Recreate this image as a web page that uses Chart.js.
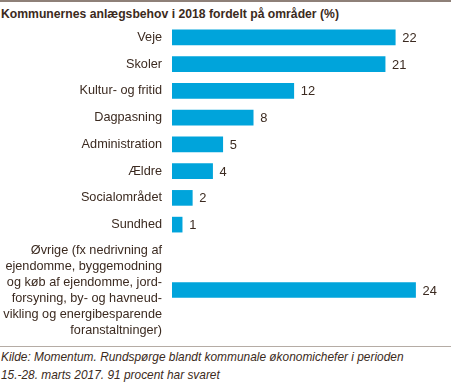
<!DOCTYPE html>
<html>
<head>
<meta charset="utf-8">
<script src="https://cdn.jsdelivr.net/npm/chart.js@4"></script>
<style>
  html, body { margin: 0; padding: 0; background: #fff; }
  #wrap { position: relative; width: 451px; height: 382px; overflow: hidden; font-family: "Liberation Sans", Arial, sans-serif; color: #3b2a20; }
  #topline { position: absolute; left: 0; top: 0; width: 451px; height: 2px; background: #8e8078; }
  #title { position: absolute; left: 1px; top: 5px; font-weight: bold; font-size: 12.2px; line-height: 18px; white-space: nowrap; }
  #boxA { position: absolute; left: 0; top: 24px; width: 451px; height: 214px; }
  #boxB { position: absolute; left: 0; top: 240px; width: 451px; height: 100px; }
  #sep { position: absolute; left: 0; top: 346px; width: 451px; height: 1px; background: #b5aca5; }
  #note { position: absolute; left: 1px; top: 348px; font-style: italic; font-size: 11.9px; line-height: 18px; white-space: nowrap; }
</style>
</head>
<body>
<div id="wrap">
  <div id="topline"></div>
  <div id="title">Kommunernes anlægsbehov i 2018 fordelt på områder (%)</div>
  <div id="boxA"><canvas id="cA"></canvas></div>
  <div id="boxB"><canvas id="cB"></canvas></div>
  <div id="sep"></div>
  <div id="note">Kilde: Momentum. Rundspørge blandt kommunale økonomichefer i perioden<br>15.-28. marts 2017. 91 procent har svaret</div>
</div>
<script>
const categories = [
  'Veje', 'Skoler', 'Kultur- og fritid', 'Dagpasning', 'Administration',
  'Ældre', 'Socialområdet', 'Sundhed',
  ['Øvrige (fx nedrivning af', 'ejendomme, byggemodning', 'og køb af ejendomme, jord-',
   'forsyning, by- og havneud-', 'vikling og energibesparende', 'foranstaltninger)']
];
const values = [22, 21, 12, 8, 5, 4, 2, 1, 24];

const TEXT = '#3b2a20';
const BAR = '#00a4db';
const FONT = '"Liberation Sans", Arial, sans-serif';

const valueLabels = {
  id: 'valueLabels',
  afterDatasetsDraw(chart) {
    const ctx = chart.ctx;
    ctx.save();
    ctx.font = '12.9px ' + FONT;
    ctx.fillStyle = TEXT;
    ctx.textBaseline = 'middle';
    ctx.textAlign = 'left';
    const meta = chart.getDatasetMeta(0);
    meta.data.forEach((el, i) => {
      ctx.fillText(String(chart.data.datasets[0].data[i]), el.x + 7, el.y + 1);
    });
    ctx.restore();
  }
};

function makeChart(id, labels, data) {
  return new Chart(document.getElementById(id), {
    type: 'bar',
    data: { labels: labels, datasets: [{ data: data, backgroundColor: BAR, borderWidth: 0, barThickness: 15 }] },
    options: {
      indexAxis: 'y',
      responsive: true,
      maintainAspectRatio: false,
      animation: false,
      events: [],
      layout: { padding: { left: 0, right: 5, top: 0, bottom: 0 } },
      plugins: { legend: { display: false }, tooltip: { enabled: false }, title: { display: false } },
      scales: {
        x: { display: false, min: 0, max: 27 },
        y: {
          grid: { display: false, drawTicks: false },
          border: { display: false },
          ticks: { color: TEXT, padding: 10, font: { family: FONT, size: 12.7, lineHeight: '16px' }, autoSkip: false },
          afterFit(scale) {
            scale.width = 172;
            scale.paddingTop = 0;
            scale.paddingBottom = 0;
          }
        }
      }
    },
    plugins: [valueLabels]
  });
}

makeChart('cA', categories.slice(0, 8), values.slice(0, 8));
makeChart('cB', categories.slice(8), values.slice(8));
</script>
</body>
</html>
